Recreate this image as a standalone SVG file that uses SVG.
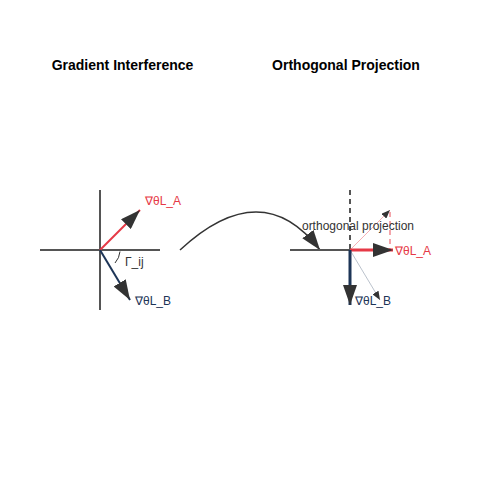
<svg xmlns="http://www.w3.org/2000/svg" width="500" height="500" viewBox="0 0 500 500">
<style>
.title{font-family:"Liberation Sans",Arial,sans-serif;font-size:14px;font-weight:bold;fill:#000;text-anchor:middle}
.lbl{font-family:"Liberation Sans",Arial,sans-serif;font-size:12px}
.axis{stroke:#555;stroke-width:2;fill:none}
.red{fill:#e63946}
.navy{fill:#1d3557}
</style>
<defs>
<marker id="big" viewBox="0 0 20 14" refX="20" refY="7" markerWidth="20" markerHeight="14" markerUnits="userSpaceOnUse" orient="auto">
<path d="M0,0 L20,7 L0,14 Z" fill="#333"/>
</marker>
<marker id="small" viewBox="0 0 10 8" refX="10" refY="4" markerWidth="9" markerHeight="7" markerUnits="userSpaceOnUse" orient="auto">
<path d="M0,0 L10,4 L0,8 Z" fill="#333"/>
</marker>
</defs>
<text class="title" x="122.5" y="70">Gradient Interference</text>
<text class="title" x="346" y="70">Orthogonal Projection</text>
<g id="left">
<line class="axis" x1="40" y1="250" x2="160" y2="250"/>
<line class="axis" x1="100" y1="190" x2="100" y2="310"/>
<line x1="100" y1="250" x2="140" y2="210" stroke="#e63946" stroke-width="2" marker-end="url(#big)"/>
<line x1="100" y1="250" x2="130" y2="300" stroke="#1d3557" stroke-width="2" marker-end="url(#big)"/>
<path d="M120,251.5 A20,20 0 0 1 115,263" fill="none" stroke="#333" stroke-width="1"/>
<text class="lbl" x="125" y="266" fill="#333">Γ_ij</text>
<text class="lbl red" x="145" y="205">∇θL_A</text>
<text class="lbl navy" x="135" y="305">∇θL_B</text>
</g>
<g id="connectors">
<path d="M180,250 Q262,174 320,250" fill="none" stroke="#333" stroke-width="1.5" marker-end="url(#big)"/>
</g>
<g id="right">
<line class="axis" x1="290" y1="250" x2="350" y2="250"/>
<line x1="350" y1="190" x2="350" y2="250" stroke="#555" stroke-width="2" stroke-dasharray="5,4"/>
<line x1="350" y1="250" x2="390" y2="210" stroke="#e63946" stroke-opacity="0.4" stroke-width="1" marker-end="url(#small)"/>
<line x1="390" y1="212" x2="390" y2="250" stroke="#e63946" stroke-opacity="0.6" stroke-width="1.5" stroke-dasharray="5,4"/>
<line x1="350" y1="250" x2="380" y2="300" stroke="#1d3557" stroke-opacity="0.3" stroke-width="1" marker-end="url(#small)"/>
<line x1="350" y1="250" x2="393" y2="250" stroke="#e63946" stroke-width="3" marker-end="url(#big)"/>
<line x1="350" y1="250" x2="350" y2="305" stroke="#1d3557" stroke-width="3" marker-end="url(#big)"/>
<text class="lbl" x="358" y="230" fill="#333" text-anchor="middle">orthogonal projection</text>
<text class="lbl red" x="395" y="255">∇θL_A</text>
<text class="lbl navy" x="355" y="305">∇θL_B</text>
</g>
</svg>
